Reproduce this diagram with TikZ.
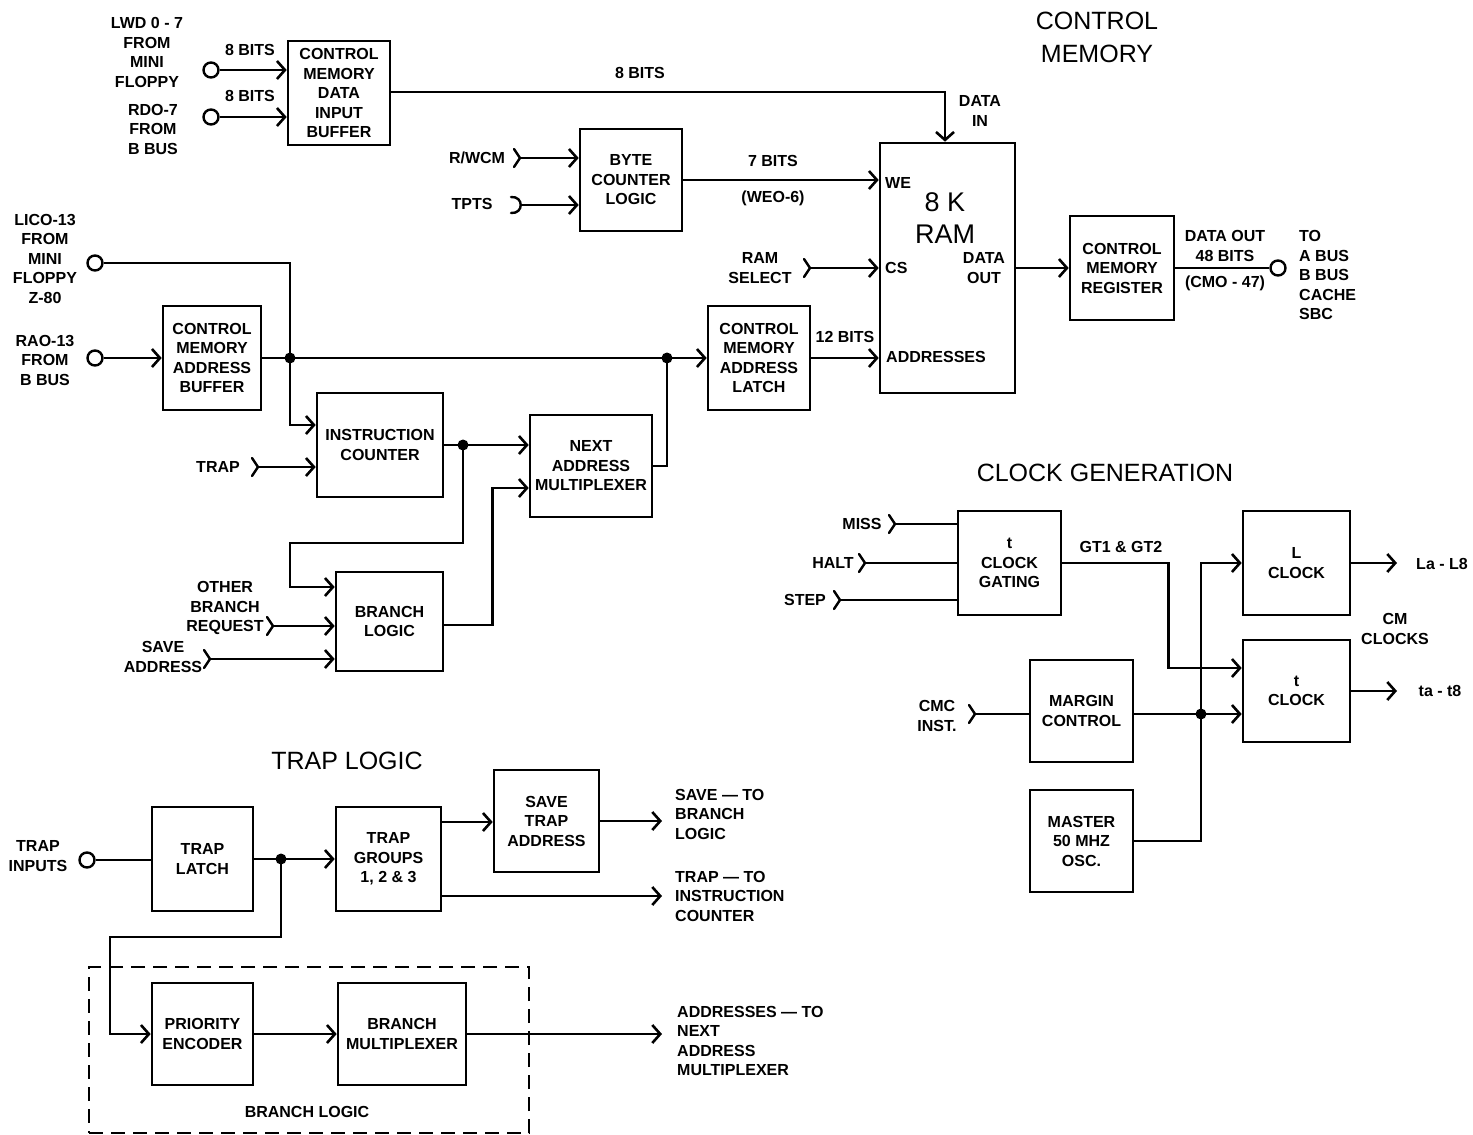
\documentclass[tikz,border=0pt]{standalone}
\usepackage{fontspec}
\setmainfont{Liberation Sans}
\usetikzlibrary{arrows.meta,calc}
\begin{document}
\begin{tikzpicture}[x=1pt,y=-1pt,
  every node/.style={font=\fontsize{16}{19.5}\selectfont\bfseries, inner sep=0pt, align=center},
  title/.style={font=\fontsize{25}{33}\selectfont},
  box/.style n args={2}{draw, line width=2.6pt, minimum width=#1, minimum height=#2},
  conn/.style={line width=2.6pt},
  arr/.style={conn, -{Straight Barb[length=8pt,width=18pt]}},
  term/.style={circle, draw, line width=2.4pt, minimum size=15pt, inner sep=0pt, fill=white},
  dot/.style={circle, fill, minimum size=11pt, inner sep=0pt},
  chev/.pic={\draw[line width=2.4pt, line cap=round, line join=round] (-6,-9) -- (0,0) -- (-6,9);},
  cee/.pic={\draw[line width=2.4pt, line cap=round] (-10,-8) .. controls (3,-9) and (3,9) .. (-10,8);}
]
\fill[white] (0,0) rectangle (1473,1135);
\useasboundingbox (0,0) rectangle (1473,1135);

% ---------------- titles
\node[title] (tcm) at (1097,37) {CONTROL\\MEMORY};
\node[title] (tcg) at (1105,473) {CLOCK GENERATION};
\node[title] (ttl) at (347,761) {TRAP LOGIC};

% ---------------- boxes
\node[box={102pt}{104pt}] (cmdib) at (339,93) {CONTROL\\MEMORY\\DATA\\INPUT\\BUFFER};
\node[box={102pt}{102pt}] (bcl) at (631,180) {BYTE\\COUNTER\\LOGIC};
\node[box={135pt}{250pt}] (ram) at (947.5,268) {};
\node[font=\fontsize{27}{32}\selectfont] (ramt) at (945,218) {8 K\\RAM};
\node[anchor=west] (we) at (885,183) {WE};
\node[anchor=west] (cs) at (885,268) {CS};
\node (dout) at (984,268) {DATA\\OUT};
\node[anchor=west] (addr) at (886,357) {ADDRESSES};
\node[box={104pt}{104pt}] (cmr) at (1122,268) {CONTROL\\MEMORY\\REGISTER};
\node[box={98pt}{104pt}] (cmab) at (212,358) {CONTROL\\MEMORY\\ADDRESS\\BUFFER};
\node[box={102pt}{104pt}] (cmal) at (759,358) {CONTROL\\MEMORY\\ADDRESS\\LATCH};
\node[box={126pt}{104pt}] (ic) at (380,445) {INSTRUCTION\\COUNTER};
\node[box={122pt}{102pt}] (nam) at (591,466) {NEXT\\ADDRESS\\MULTIPLEXER};
\node[box={107pt}{99pt}] (bl) at (389.5,621.5) {BRANCH\\LOGIC};

\node[box={101pt}{104pt}] (tl) at (202.5,859) {TRAP\\LATCH};
\node[box={105pt}{104pt}] (tg) at (388.5,859) {TRAP\\GROUPS\\1, 2 \& 3};
\node[box={105pt}{102pt}] (sta) at (546.5,821) {SAVE\\TRAP\\ADDRESS};
\node[box={101pt}{102pt}] (pe) at (202.5,1034) {PRIORITY\\ENCODER};
\node[box={128pt}{102pt}] (bm) at (402,1034) {BRANCH\\MULTIPLEXER};
\node[draw, line width=2.2pt, dash pattern=on 14pt off 8pt, minimum width=440pt, minimum height=166pt] (dbox) at (309,1050) {};
\node (bll) at (307,1112) {BRANCH LOGIC};

\node[box={103pt}{104pt}] (cg) at (1009.5,563) {t\\CLOCK\\GATING};
\node[box={107pt}{104pt}] (lc) at (1296.5,563) {L\\CLOCK};
\node[box={107pt}{102pt}] (tc) at (1296.5,691) {t\\CLOCK};
\node[box={103pt}{102pt}] (mc) at (1081.5,711) {MARGIN\\CONTROL};
\node[box={103pt}{102pt}] (mo) at (1081.5,841) {MASTER\\50 MHZ\\OSC.};

% ---------------- terminals and input points
\node[term] (lwd) at (211,70) {};
\node[term] (rdo) at (211,117) {};
\node[term] (tout) at (1278,268) {};
\node[term] (lico) at (95,263) {};
\node[term] (rao) at (95,358) {};
\node[term] (tin) at (87,860) {};

\coordinate (rw) at (520,158);
\coordinate (tp) at (521,205);
\coordinate (rs) at (810,268);
\coordinate (trap) at (258,467);
\coordinate (obr) at (273,626);
\coordinate (sav) at (210,659);
\coordinate (miss) at (895,524);
\coordinate (halt) at (865,563);
\coordinate (step) at (840,600);
\coordinate (cmc) at (975,714);
\coordinate (osave) at (662,821);
\coordinate (otrap) at (662,896);
\coordinate (oaddr) at (662,1034);
\coordinate (ola) at (1397,563);
\coordinate (ota) at (1397,691);

\pic at (rw) {chev};
\pic at (tp) {cee};
\pic at (rs) {chev};
\pic at (trap) {chev};
\pic at (obr) {chev};
\pic at (sav) {chev};
\pic at (miss) {chev};
\pic at (halt) {chev};
\pic at (step) {chev};
\pic at (cmc) {chev};

% junctions
\coordinate (jl) at (290,358);
\coordinate (jr) at (667,358);
\coordinate (jic) at (463,445);
\coordinate (jt) at (281,859);
\coordinate (jc) at (1201,714);

% ---------------- connectors: control memory
\draw[arr] (lwd.east) -- (lwd.east -| cmdib.west);
\draw[arr] (rdo.east) -- (rdo.east -| cmdib.west);
\draw[arr] ([yshift=1pt]cmdib.east) -| ([xshift=-2.5pt]ram.north);
\draw[arr] (rw) -- (rw -| bcl.west);
\draw[arr] (tp) -- (tp -| bcl.west);
\draw[arr] (bcl.east) -- (bcl.east -| ram.west);
\draw[arr] (rs) -- (rs -| ram.west);
\draw[arr] (ram.east) -- (ram.east -| cmr.west);
\draw[conn] (cmr.east) -- (cmr.east -| tout.west);

\draw[arr] (lico.east) -| (jl) |- ([yshift=20pt]ic.west);
\draw[arr] (rao.east) -- (rao.east -| cmab.west);
\draw[arr] (cmab.east) -- (cmab.east -| cmal.west);
\draw[arr] (cmal.east) -- (cmal.east -| ram.west);
\draw[arr] (trap) -- (trap -| ic.west);
\draw[arr] (ic.east) -- (ic.east -| nam.west);
\draw[arr] (jic) -- ++(0,98) -- ++(-173,0) |- ([yshift=34.5pt]bl.west);
\draw[arr] ([yshift=-3.5pt]bl.east) -- ++(48,0) |- ([yshift=-22pt]nam.west);
\draw[conn] (nam.east) -| (jr);
\draw[arr] (obr) -- (obr -| bl.west);
\draw[arr] (sav) -- (sav -| bl.west);
\node[dot] (djl) at (jl) {};
\node[dot] (djr) at (jr) {};
\node[dot] (djic) at (jic) {};

% ---------------- connectors: trap logic
\draw[conn] (tin.east) -- (tin.east -| tl.west);
\draw[arr] (tl.east) -- (tl.east -| tg.west);
\draw[arr] (jt) -- ++(0,78) -- ++(-171,0) |- (pe.west);
\draw[arr] ([yshift=37pt]tg.east) -- ([yshift=37pt]tg.east -| sta.west);
\draw[arr] (sta.east) -- (osave);
\draw[arr] (otrap -| tg.east) -- (otrap);
\draw[arr] (pe.east) -- (bm.west);
\draw[arr] (bm.east) -- (oaddr);
\node[dot] (djt) at (jt) {};

% ---------------- connectors: clock generation
\draw[conn] (miss) -- (miss -| cg.west);
\draw[conn] (halt) -- (halt -| cg.west);
\draw[conn] (step) -- (step -| cg.west);
\draw[arr] (cg.east) -- ++(106,0) |- ([yshift=23pt]tc.west);
\draw[conn] (cmc) -- (cmc -| mc.west);
\draw[arr] (jc -| mc.east) -- (jc -| tc.west);
\draw[arr] (mo.east) -| (jc) |- (lc.west);
\draw[arr] (lc.east) -- (ola);
\draw[arr] (tc.east) -- (ota);
\node[dot] (djc) at (jc) {};

% ---------------- labels
\node (lwdl) at (147,52.5) {LWD 0 - 7\\FROM\\MINI\\FLOPPY};
\node (rdol) at (153,129) {RDO-7\\FROM\\B BUS};
\node (b8a) at (250,50) {8 BITS};
\node (b8b) at (250,96) {8 BITS};
\node (b8c) at (640,73) {8 BITS};
\node (dinl) at (980,111) {DATA\\IN};
\node (rwl) at (477,158) {R/WCM};
\node (tpl) at (472,204) {TPTS};
\node (b7) at (773,161) {7 BITS};
\node (weo) at (773,198) {(WEO-6)};
\node (rsl) at (760,268) {RAM\\SELECT};
\node (b12) at (845,337) {12 BITS};
\node (dol) at (1225,246) {DATA OUT\\48 BITS};
\node (cmo) at (1225,283) {(CMO - 47)};
\node[anchor=west, align=left] (tol) at (1299,275) {TO\\A BUS\\B BUS\\CACHE\\SBC};
\node (licol) at (45,258.5) {LICO-13\\FROM\\MINI\\FLOPPY\\Z-80};
\node (raol) at (45,360) {RAO-13\\FROM\\B BUS};
\node (trapl) at (218,467) {TRAP};
\node (obrl) at (225,608) {OTHER\\BRANCH\\REQUEST};
\node (savl) at (163,657) {SAVE\\ADDRESS};
\node (tinl) at (38,856) {TRAP\\INPUTS};
\node[anchor=west, align=left] (osl) at (675,814) {SAVE — TO\\BRANCH\\LOGIC};
\node[anchor=west, align=left] (otl) at (675,896) {TRAP — TO\\INSTRUCTION\\COUNTER};
\node[anchor=west, align=left] (oal) at (677,1041) {ADDRESSES — TO\\NEXT\\ADDRESS\\MULTIPLEXER};
\node (missl) at (862,524) {MISS};
\node (haltl) at (833,563) {HALT};
\node (stepl) at (805,600) {STEP};
\node (gtl) at (1121,547) {GT1 \& GT2};
\node (lal) at (1442,564) {La - L8};
\node (tal) at (1440,691) {ta - t8};
\node (cmcl) at (1395,629) {CM\\CLOCKS};
\node (cmcil) at (937,716) {CMC\\INST.};
\end{tikzpicture}
\end{document}
